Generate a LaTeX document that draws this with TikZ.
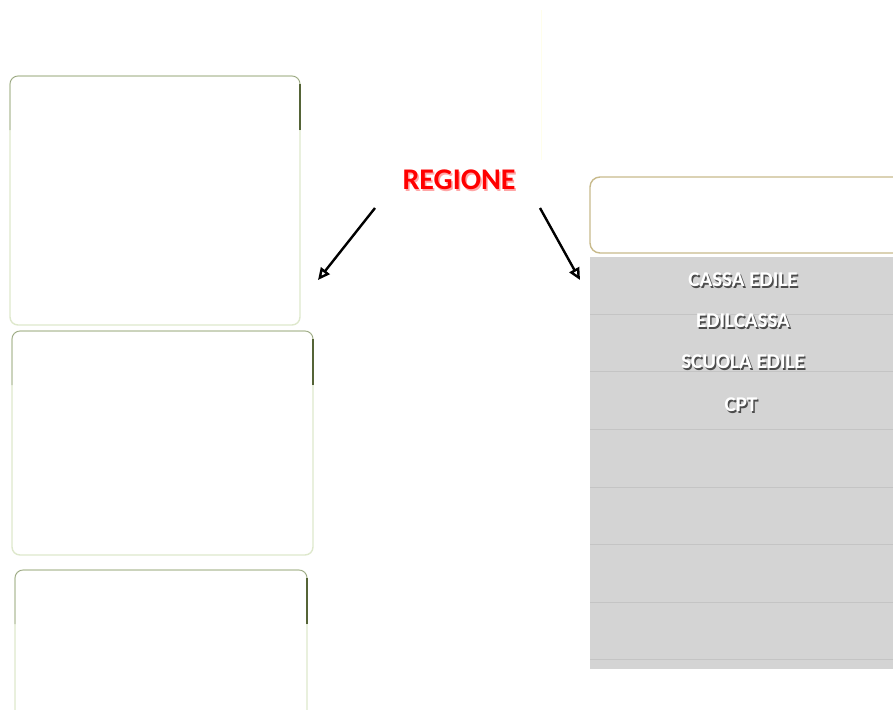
\documentclass[tikz,border=0pt]{standalone}
\usepackage{fontspec}
\setmainfont{Carlito}
\usetikzlibrary{arrows.meta}
\definecolor{boxedge}{RGB}{222,232,204}
\definecolor{boxtop}{RGB}{150,160,130}
\definecolor{boxdark}{RGB}{85,100,55}
\definecolor{tanedge}{RGB}{200,186,140}
\definecolor{panelgray}{RGB}{212,212,212}
\definecolor{panelline}{RGB}{196,196,196}
\tikzset{
  leftbox/.style={draw=boxedge, line width=1.4pt, fill=white, rounded corners=8pt},
  boxrim/.style={draw=boxtop, line width=0.6pt, rounded corners=8pt},
  boxshade/.style={draw=boxdark, line width=2pt},
  entry/.style={font=\bfseries\fontsize{21}{21}\selectfont, text=white, inner sep=0pt},
  entryshadow/.style={font=\bfseries\fontsize{21}{21}\selectfont, text=black!70, inner sep=0pt},
  bigarrow/.style={-{Triangle[open, length=12pt, width=11pt]}, line width=2.4pt, black}
}

\begin{document}
\begin{tikzpicture}[x=1pt, y=-1pt]
  \useasboundingbox (0,0) rectangle (893,709);
  \draw[yellow!8, line width=0.6pt] (541,10) -- (541,160);

  \draw[leftbox] (10,76) rectangle (300,325);
  \draw[boxrim] (10,130) -- (10,76) -- (300,76) -- (300,130);
  \draw[boxshade] (300,84) -- (300,130);
  \draw[leftbox] (12,331) rectangle (313,555);
  \draw[boxrim] (12,385) -- (12,331) -- (313,331) -- (313,385);
  \draw[boxshade] (313,339) -- (313,385);
  \draw[leftbox] (15,570) rectangle (307,720);
  \draw[boxrim] (15,624) -- (15,570) -- (307,570) -- (307,624);
  \draw[boxshade] (307,578) -- (307,624);

  \draw[tanedge, line width=1.4pt, fill=white, rounded corners=10pt]
    (590,177) rectangle (905,253);

  \fill[panelgray] (590,257) rectangle (893,669);
  \foreach \y in {314,371,429,487,544,602,659}
    \draw[panelline, line width=0.8pt] (590,\y) -- (893,\y);

  \node[font=\bfseries\fontsize{30}{30}\selectfont, text=red!35, inner sep=0pt]
    (regione-sh) at (460.5,181.5) {REGIONE};
  \node[font=\bfseries\fontsize{30}{30}\selectfont, text=red, inner sep=0pt]
    (regione) at (459,180) {REGIONE};

  \coordinate (ltail) at (375,208);
  \coordinate (lhead) at (318,280);
  \coordinate (rtail) at (540,208);
  \coordinate (rhead) at (580,280);
  \draw[bigarrow] (ltail) -- (lhead);
  \draw[bigarrow] (rtail) -- (rhead);

  \node[entryshadow] (cassa-sh) at (744.5,281.5) {CASSA EDILE};
  \node[entry] (cassa) at (743,280) {CASSA EDILE};
  \node[entryshadow] (edilcassa-sh) at (744.5,322.5) {EDILCASSA};
  \node[entry] (edilcassa) at (743,321) {EDILCASSA};
  \node[entryshadow] (scuola-sh) at (744.5,363.5) {SCUOLA EDILE};
  \node[entry] (scuola) at (743,362) {SCUOLA EDILE};
  \node[entryshadow] (cpt-sh) at (742.5,406.5) {CPT};
  \node[entry] (cpt) at (741,405) {CPT};
\end{tikzpicture}
\end{document}
